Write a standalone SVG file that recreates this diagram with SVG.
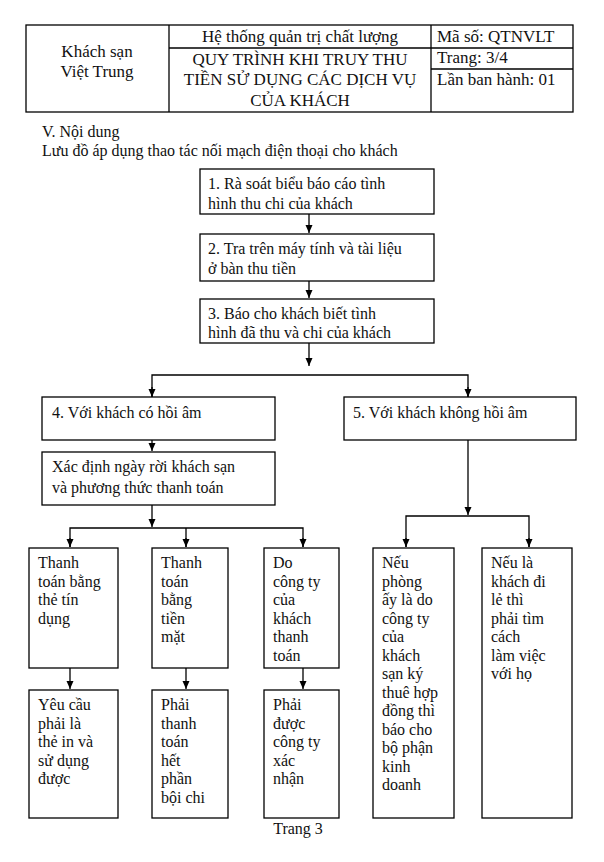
<svg xmlns="http://www.w3.org/2000/svg" width="604" height="862" viewBox="0 0 604 862">
<defs>
<marker id="d" markerWidth="8" markerHeight="9" refX="4" refY="8" markerUnits="userSpaceOnUse" orient="0"><path d="M0.5,0 L7.5,0 L4,8 Z" fill="#000"/></marker></defs>
<style>
text{font-family:"Liberation Serif","Times New Roman",serif;font-size:16px;fill:#111}
.b{fill:#fff;stroke:#000;stroke-width:1.3}
.c line,.c path{stroke:#000;stroke-width:1.3;fill:none}
</style>
<rect width="604" height="862" fill="#fff"/>
<g id="header">
<rect class="b" x="26" y="25" width="547" height="87"/>
<line x1="169" y1="25" x2="169" y2="112" stroke="#000" stroke-width="1.3"/>
<line x1="431" y1="25" x2="431" y2="112" stroke="#000" stroke-width="1.3"/>
<line x1="169" y1="48" x2="573" y2="48" stroke="#000" stroke-width="1.3"/>
<line x1="431" y1="69" x2="573" y2="69" stroke="#000" stroke-width="1.3"/>
<text x="97" y="57" text-anchor="middle" style="font-size:17px">Khách sạn</text>
<text x="97" y="77" text-anchor="middle" style="font-size:17px">Việt Trung</text>
<text x="300" y="42" text-anchor="middle" style="font-size:17px">Hệ thống quản trị chất lượng</text>
<text x="300" y="65" text-anchor="middle" style="font-size:17px">QUY TRÌNH KHI TRUY THU</text>
<text x="300" y="85" text-anchor="middle" style="font-size:17px">TIỀN SỬ DỤNG CÁC DỊCH VỤ</text>
<text x="300" y="106" text-anchor="middle" style="font-size:17px">CỦA KHÁCH</text>
<text x="437" y="42" style="font-size:17px">Mã số: QTNVLT</text>
<text x="437" y="63" style="font-size:17px">Trang:  3/4</text>
<text x="437" y="85" style="font-size:17px">Lần ban hành: 01</text>
</g>
<text x="42" y="137">V. Nội dung</text>
<text x="42" y="156">Lưu đồ áp dụng thao tác nối mạch điện thoại cho khách</text>
<g class="c" id="connectors">
<line x1="309" y1="214" x2="309" y2="233" marker-end="url(#d)"/>
<line x1="309" y1="281" x2="309" y2="298" marker-end="url(#d)"/>
<line x1="309" y1="343" x2="309" y2="366" marker-end="url(#d)"/>
<path d="M152,397 V375 H468 V397"/>
<line x1="152" y1="387" x2="152" y2="397" marker-end="url(#d)"/>
<line x1="468" y1="387" x2="468" y2="397" marker-end="url(#d)"/>
<line x1="152" y1="440" x2="152" y2="451" marker-end="url(#d)"/>
<line x1="152" y1="505" x2="152" y2="527" marker-end="url(#d)"/>
<path d="M70,547 V528 H303 V547 M186,528 V547"/>
<line x1="70" y1="538" x2="70" y2="547" marker-end="url(#d)"/>
<line x1="186" y1="538" x2="186" y2="547" marker-end="url(#d)"/>
<line x1="303" y1="538" x2="303" y2="547" marker-end="url(#d)"/>
<line x1="468" y1="440" x2="468" y2="515" marker-end="url(#d)"/>
<path d="M406,547 V516 H529 V547"/>
<line x1="406" y1="538" x2="406" y2="547" marker-end="url(#d)"/>
<line x1="529" y1="538" x2="529" y2="547" marker-end="url(#d)"/>
<line x1="70" y1="668" x2="70" y2="689" marker-end="url(#d)"/>
<line x1="186" y1="668" x2="186" y2="689" marker-end="url(#d)"/>
<line x1="303" y1="668" x2="303" y2="689" marker-end="url(#d)"/>
</g>
<g id="n1"><rect class="b" x="200" y="169" width="234" height="45"/><text x="208" y="189">1. Rà soát biểu báo cáo tình</text><text x="208" y="209">hình thu chi của khách</text></g>
<g id="n2"><rect class="b" x="200" y="234" width="234" height="47"/><text x="208" y="254">2. Tra trên máy tính và tài liệu</text><text x="208" y="274">ở bàn thu tiền</text></g>
<g id="n3"><rect class="b" x="200" y="299" width="234" height="44"/><text x="208" y="319">3. Báo cho khách biết tình</text><text x="208" y="338">hình đã thu và chi của khách</text></g>
<g id="n4"><rect class="b" x="42" y="397" width="233" height="43"/><text x="52" y="418">4. Với khách có hồi âm</text></g>
<g id="n5"><rect class="b" x="344" y="397" width="232" height="43"/><text x="353" y="418">5. Với khách không hồi âm</text></g>
<g id="n6"><rect class="b" x="42" y="452" width="233" height="53"/><text x="52" y="472">Xác định ngày rời khách sạn</text><text x="52" y="493">và phương thức thanh toán</text></g>
<g id="n7"><rect class="b" x="29" y="548" width="89" height="120"/><text x="38" y="568">Thanh</text><text x="38" y="586.5">toán bằng</text><text x="38" y="605">thẻ tín</text><text x="38" y="623.5">dụng</text></g>
<g id="n8"><rect class="b" x="152" y="548" width="76" height="120"/><text x="161" y="568">Thanh</text><text x="161" y="586.5">toán</text><text x="161" y="605">bằng</text><text x="161" y="623.5">tiền</text><text x="161" y="642">mặt</text></g>
<g id="n9"><rect class="b" x="264" y="548" width="75" height="120"/><text x="273" y="568">Do</text><text x="273" y="586.5">công ty</text><text x="273" y="605">của</text><text x="273" y="623.5">khách</text><text x="273" y="642">thanh</text><text x="273" y="660.5">toán</text></g>
<g id="n10"><rect class="b" x="29" y="690" width="89" height="128"/><text x="38" y="710">Yêu cầu</text><text x="38" y="728.5">phải là</text><text x="38" y="747">thẻ in và</text><text x="38" y="765.5">sử dụng</text><text x="38" y="784">được</text></g>
<g id="n11"><rect class="b" x="152" y="690" width="76" height="128"/><text x="161" y="710">Phải</text><text x="161" y="728.5">thanh</text><text x="161" y="747">toán</text><text x="161" y="765.5">hết</text><text x="161" y="784">phần</text><text x="161" y="802.5">bội chi</text></g>
<g id="n12"><rect class="b" x="264" y="690" width="75" height="128"/><text x="273" y="710">Phải</text><text x="273" y="728.5">được</text><text x="273" y="747">công ty</text><text x="273" y="765.5">xác</text><text x="273" y="784">nhận</text></g>
<g id="n13"><rect class="b" x="373" y="548" width="81" height="270"/><text x="382" y="568">Nếu</text><text x="382" y="586.5">phòng</text><text x="382" y="605">ấy là do</text><text x="382" y="623.5">công ty</text><text x="382" y="642">của</text><text x="382" y="660.5">khách</text><text x="382" y="679">sạn ký</text><text x="382" y="697.5">thuê hợp</text><text x="382" y="716">đồng thì</text><text x="382" y="734.5">báo cho</text><text x="382" y="753">bộ phận</text><text x="382" y="771.5">kinh</text><text x="382" y="790">doanh</text></g>
<g id="n14"><rect class="b" x="482" y="548" width="90" height="270"/><text x="491" y="568">Nếu là</text><text x="491" y="586.5">khách đi</text><text x="491" y="605">lẻ thì</text><text x="491" y="623.5">phải tìm</text><text x="491" y="642">cách</text><text x="491" y="660.5">làm việc</text><text x="491" y="679">với họ</text></g>
<text x="298" y="834" text-anchor="middle">Trang 3</text>
</svg>
